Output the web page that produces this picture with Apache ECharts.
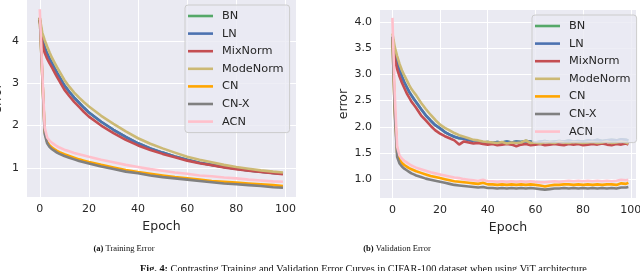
<!DOCTYPE html>
<html>
<head>
<meta charset="utf-8">
<script src="https://cdn.jsdelivr.net/npm/echarts@6/dist/echarts.min.js"></script>
<style>html,body{margin:0;padding:0;background:#fff;}#c{width:640px;height:271px;}</style>
</head>
<body>
<div id="c"></div>
<script>
// ---------- DATA ----------
const seriesNames = ['BN', 'LN', 'MixNorm', 'ModeNorm', 'CN', 'CN-X', 'ACN'];
const xTicks = [0, 20, 40, 60, 80, 100];
const trainYTicks = [1, 2, 3, 4];
const valYTicks = [1.0, 1.5, 2.0, 2.5, 3.0, 3.5, 4.0];

// (a) Training error
const trainEpochs = [0,1,2,3,4,5,6,7,8,10,12,14,16,18,20,25,30,35,40,45,50,55,60,65,70,75,80,85,90,95,99];
const trainLN = [4.5,4.05,3.85,3.7,3.58,3.47,3.36,3.25,3.15,2.95,2.8,2.66,2.54,2.42,2.31,2.09,1.9,1.73,1.58,1.46,1.36,1.27,1.19,1.12,1.07,1.02,0.98,0.94,0.91,0.88,0.86];
const trainBN = [4.5,4.05,3.85,3.7,3.58,3.47,3.36,3.25,3.15,2.95,2.8,2.66,2.54,2.42,2.31,2.09,1.9,1.73,1.58,1.46,1.36,1.27,1.19,1.12,1.07,1.02,0.98,0.94,0.91,0.88,0.86];
const trainMix = [4.5,3.95,3.72,3.58,3.47,3.37,3.26,3.15,3.05,2.85,2.7,2.56,2.44,2.32,2.21,2.0,1.82,1.66,1.53,1.42,1.33,1.25,1.17,1.11,1.06,1.01,0.97,0.93,0.9,0.87,0.85];
const trainMode = [4.55,4.2,4.02,3.87,3.73,3.6,3.49,3.38,3.28,3.08,2.92,2.78,2.66,2.55,2.45,2.23,2.04,1.86,1.7,1.57,1.46,1.36,1.26,1.19,1.13,1.07,1.02,0.98,0.94,0.91,0.89];
const trainCN = [4.55,3.2,1.85,1.62,1.53,1.48,1.44,1.4,1.37,1.32,1.28,1.24,1.2,1.17,1.14,1.07,1.01,0.95,0.9,0.86,0.82,0.78,0.75,0.72,0.69,0.67,0.65,0.63,0.61,0.59,0.57];
const trainCNX = [4.55,3.2,1.8,1.58,1.49,1.44,1.4,1.36,1.33,1.28,1.24,1.2,1.16,1.13,1.1,1.03,0.97,0.91,0.87,0.82,0.78,0.75,0.72,0.69,0.66,0.63,0.61,0.59,0.57,0.54,0.53];
const trainACN = [4.75,3.3,1.95,1.72,1.64,1.59,1.55,1.51,1.48,1.43,1.39,1.35,1.32,1.29,1.26,1.19,1.13,1.07,1.02,0.97,0.93,0.89,0.86,0.82,0.8,0.77,0.75,0.72,0.7,0.68,0.67];

// (b) Validation error
const valEpochs = [0,1,2,3,4,5,6,7,8,9,10,12,14,16,18,20,22,24,26,28,30,32,34,36,38,40,42,44,46,48,50,52,54,56,58,60,62,64,66,68,70,72,74,76,78,80,82,84,86,88,90,92,94,96,98,99];
const valLN = [3.72,3.42,3.22,3.08,2.96,2.85,2.76,2.67,2.6,2.53,2.47,2.34,2.22,2.12,2.03,1.97,1.9,1.85,1.81,1.78,1.77,1.75,1.73,1.72,1.7,1.71,1.69,1.71,1.7,1.72,1.7,1.72,1.71,1.73,1.72,1.7,1.72,1.73,1.71,1.72,1.73,1.72,1.74,1.72,1.73,1.72,1.74,1.73,1.75,1.73,1.74,1.75,1.74,1.76,1.75,1.74];
const valBN = [3.72,3.42,3.22,3.08,2.96,2.85,2.76,2.67,2.6,2.53,2.47,2.34,2.22,2.12,2.03,1.97,1.9,1.85,1.81,1.78,1.77,1.75,1.73,1.72,1.7,1.71,1.69,1.71,1.7,1.72,1.7,1.72,1.71,1.73,1.72,1.7,1.72,1.73,1.71,1.72,1.73,1.72,1.74,1.72,1.73,1.72,1.74,1.73,1.75,1.73,1.74,1.75,1.74,1.76,1.75,1.74];
const valMix = [3.7,3.3,3.1,2.96,2.84,2.74,2.64,2.56,2.48,2.42,2.36,2.22,2.12,2.02,1.93,1.87,1.82,1.78,1.74,1.66,1.72,1.7,1.68,1.69,1.67,1.66,1.67,1.65,1.66,1.67,1.66,1.63,1.66,1.67,1.65,1.66,1.67,1.65,1.66,1.67,1.66,1.65,1.67,1.66,1.67,1.65,1.66,1.67,1.66,1.68,1.66,1.65,1.67,1.66,1.68,1.66];
const valMode = [3.78,3.52,3.35,3.2,3.08,2.98,2.89,2.8,2.72,2.66,2.6,2.46,2.34,2.23,2.13,2.04,1.98,1.93,1.88,1.84,1.81,1.78,1.75,1.74,1.72,1.71,1.7,1.69,1.71,1.68,1.7,1.69,1.7,1.74,1.69,1.7,1.68,1.71,1.7,1.69,1.72,1.7,1.69,1.71,1.7,1.69,1.7,1.71,1.69,1.7,1.72,1.69,1.7,1.72,1.7,1.68];
const valCN = [3.7,2.3,1.5,1.37,1.31,1.27,1.24,1.21,1.19,1.17,1.15,1.12,1.09,1.06,1.04,1.02,1.0,0.98,0.96,0.95,0.94,0.93,0.92,0.91,0.93,0.9,0.9,0.89,0.9,0.89,0.9,0.89,0.9,0.89,0.9,0.89,0.88,0.86,0.88,0.89,0.89,0.9,0.9,0.89,0.9,0.89,0.9,0.89,0.9,0.89,0.9,0.9,0.89,0.92,0.91,0.93];
const valCNX = [3.72,2.25,1.42,1.3,1.24,1.2,1.17,1.14,1.11,1.09,1.07,1.04,1.01,0.99,0.97,0.95,0.93,0.91,0.89,0.88,0.87,0.86,0.85,0.84,0.85,0.83,0.83,0.82,0.83,0.82,0.83,0.82,0.83,0.82,0.83,0.82,0.81,0.8,0.81,0.82,0.82,0.83,0.82,0.83,0.82,0.83,0.82,0.83,0.82,0.83,0.82,0.83,0.82,0.84,0.84,0.85];
const valACN = [4.08,2.6,1.62,1.45,1.39,1.35,1.32,1.29,1.26,1.24,1.22,1.19,1.16,1.13,1.11,1.09,1.07,1.05,1.03,1.02,1.0,0.99,0.98,0.97,0.99,0.96,0.96,0.95,0.96,0.95,0.96,0.95,0.96,0.95,0.96,0.95,0.94,0.94,0.95,0.96,0.95,0.96,0.97,0.96,0.97,0.96,0.97,0.96,0.97,0.96,0.97,0.96,0.97,0.99,0.98,0.99];

// ---------- STYLE ----------
const colors = ['#55a868', '#4c72b0', '#c44e52', '#ccb974', '#ffa500', '#808080', '#ffc0cb'];
const trainData = [trainBN, trainLN, trainMix, trainMode, trainCN, trainCNX, trainACN];
const valData = [valBN, valLN, valMix, valMode, valCN, valCNX, valACN];
const FONT = 'DejaVu Sans';
const TXT = '#262626';
// legend line sample: a bar across the full item width, vertically centred
const LEGEND_ICON = 'path://M0,0 M0,14 M0,5.7 L25,5.7 L25,8.3 L0,8.3 Z';

function pairs(xs, ys) { return xs.map((x, i) => [x, ys[i]]); }

const series = [];
seriesNames.forEach((n, i) => {
  series.push({ name: n, type: 'line', xAxisIndex: 0, yAxisIndex: 0, data: pairs(trainEpochs, trainData[i]),
    showSymbol: false, symbol: 'none', lineStyle: { width: 2.6, color: colors[i] }, itemStyle: { color: colors[i] }, silent: true, animation: false });
});
seriesNames.forEach((n, i) => {
  series.push({ name: n, type: 'line', xAxisIndex: 1, yAxisIndex: 1, data: pairs(valEpochs, valData[i]),
    showSymbol: false, symbol: 'none', lineStyle: { width: 2.6, color: colors[i] }, itemStyle: { color: colors[i] }, silent: true, animation: false });
});

function xAxis(gi, min, max) {
  return {
    type: 'value', gridIndex: gi, min: min, max: max,
    name: 'Epoch', nameLocation: 'middle', nameGap: 20,
    nameTextStyle: { fontFamily: FONT, fontSize: 12.5, color: TXT },
    axisLine: { show: false }, axisTick: { show: false, customValues: xTicks },
    axisLabel: { customValues: xTicks, fontFamily: FONT, fontSize: 11, color: TXT, margin: 7 },
    splitLine: { show: true, lineStyle: { color: '#ffffff', width: 1 } }
  };
}
function yAxis(gi, min, max, ticks, fmt, gap) {
  return {
    type: 'value', gridIndex: gi, min: min, max: max,
    name: 'error', nameLocation: 'middle', nameGap: gap,
    nameTextStyle: { fontFamily: FONT, fontSize: 12.5, color: TXT },
    axisLine: { show: false }, axisTick: { show: false, customValues: ticks },
    axisLabel: { customValues: ticks, fontFamily: FONT, fontSize: 11, color: TXT, margin: 8, formatter: fmt },
    splitLine: { show: true, lineStyle: { color: '#ffffff', width: 1 } }
  };
}
function legend(left, top) {
  return {
    data: seriesNames.map(n => ({ name: n, icon: LEGEND_ICON })), orient: 'vertical', left: left, top: top,
    padding: [4, 6, 4, 3], itemGap: 3.6, itemWidth: 25, itemHeight: 14,
    backgroundColor: 'rgba(234,234,242,0.8)', borderColor: '#cccccc', borderWidth: 1, borderRadius: 3,
    textStyle: { fontFamily: FONT, fontSize: 11.3, color: TXT, lineHeight: 14, padding: [0, 0, 0, 4] },
    selectedMode: false
  };
}

const chart = echarts.init(document.getElementById('c'), null, { renderer: 'canvas' });
const capStyle = (txt, x, y, size, align) => ({
  type: 'text', x: x, y: y,
  style: { text: txt, rich: { b: { fontWeight: 'bold', fontFamily: 'Liberation Serif', fontSize: size, fill: '#111' } },
    fontFamily: 'Liberation Serif', fontSize: size, fill: '#111', align: align, verticalAlign: 'middle' }
});
chart.setOption({
  animation: false,
  backgroundColor: '#ffffff',
  grid: [
    { left: 27, top: 0, width: 269, height: 197, show: true, backgroundColor: '#eaeaf2', borderWidth: 0, containLabel: false, outerBoundsMode: 'none' },
    { left: 380, top: 10, width: 256, height: 188, show: true, backgroundColor: '#eaeaf2', borderWidth: 0, containLabel: false, outerBoundsMode: 'none' }
  ],
  xAxis: [xAxis(0, -5.2, 104.3), xAxis(1, -5.2, 102.2)],
  yAxis: [
    yAxis(0, 0.31, 4.97, trainYTicks, v => String(v), 23),
    yAxis(1, 0.64, 4.23, valYTicks, v => v.toFixed(1), 15)
  ],
  legend: [legend(185, 5), legend(532, 15)],
  series: series,
  graphic: [
    capStyle('{b|(a)} Training Error', 124, 249, 8.5, 'center'),
    capStyle('{b|(b)} Validation Error', 397, 249, 8.5, 'center'),
    capStyle('{b|Fig. 4:} Contrasting Training and Validation Error Curves in CIFAR-100 dataset when using ViT architecture', 140, 269, 10.3, 'left')
  ]
});
</script>
</body>
</html>
